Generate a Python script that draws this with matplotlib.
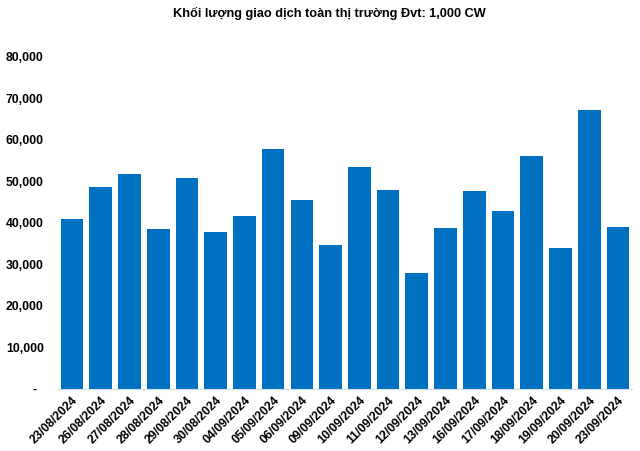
import numpy as np
import matplotlib
matplotlib.use('Agg')
import matplotlib.pyplot as plt
from matplotlib.ticker import FuncFormatter

# Data (unit: 1,000 CW)
dates = ['23/08/2024', '26/08/2024', '27/08/2024', '28/08/2024', '29/08/2024',
         '30/08/2024', '04/09/2024', '05/09/2024', '06/09/2024', '09/09/2024',
         '10/09/2024', '11/09/2024', '12/09/2024', '13/09/2024', '16/09/2024',
         '17/09/2024', '18/09/2024', '19/09/2024', '20/09/2024', '23/09/2024']
volume = [41000, 48700, 51800, 38600, 50800, 37800, 41700, 57800, 45500, 34700,
          53500, 48000, 28000, 38800, 47700, 42900, 56100, 34000, 67200, 39000]
y_ticks = [0, 10000, 20000, 30000, 40000, 50000, 60000, 70000, 80000]

plt.rcParams['font.family'] = ['Liberation Sans', 'DejaVu Sans']

fig = plt.figure(figsize=(6.4, 4.51), dpi=100)
ax = fig.add_axes([0.09, 0.1375, 0.898, 0.7365])

x = np.arange(len(dates))
ax.bar(x, volume, width=0.79, color='#0070C0')

ax.set_xlim(-0.5, len(dates) - 0.5)
ax.set_ylim(0, 80000)
ax.set_yticks(y_ticks)
ax.yaxis.set_major_formatter(FuncFormatter(lambda v, p: '-  ' if v == 0 else f'{int(v):,}'))
ax.set_xticks(x)
ax.set_xticklabels(dates, rotation=45, ha='right', rotation_mode='anchor')

for lbl in ax.get_xticklabels() + ax.get_yticklabels():
    lbl.set_fontweight('bold')
    lbl.set_fontsize(8.8)

ax.tick_params(axis='y', length=0, pad=10)
ax.tick_params(axis='x', length=0, pad=4)
for s in ['top', 'right', 'left']:
    ax.spines[s].set_visible(False)
ax.spines['bottom'].set_color('#d9d9d9')

fig.text(0.515, 0.97, 'Khối lượng giao dịch toàn thị trường Đvt: 1,000 CW',
         ha='center', va='center', fontsize=9.2, fontweight='bold')

fig.savefig('out.png', dpi=100)
